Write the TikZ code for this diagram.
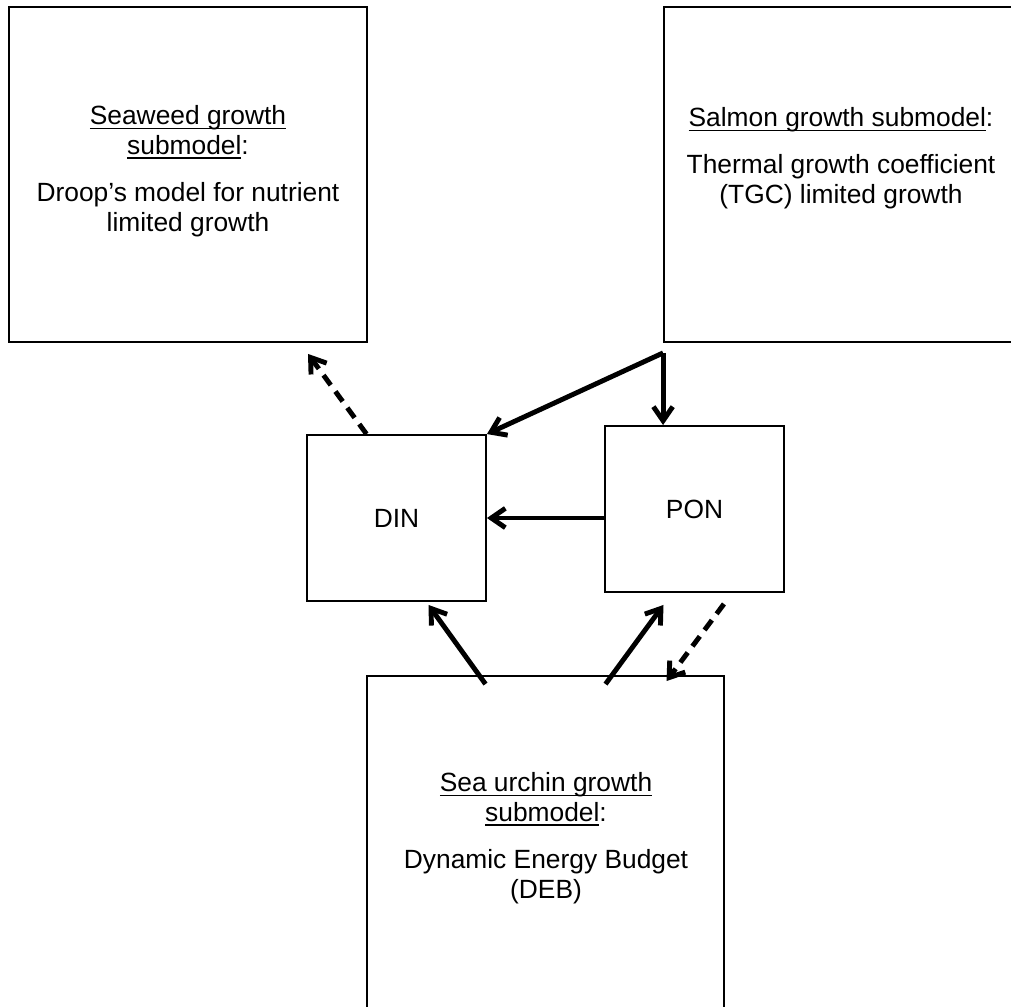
\documentclass[tikz,border=0pt]{standalone}
\usepackage{fontspec}
\setmainfont{Liberation Sans}
\usetikzlibrary{positioning, arrows.meta, calc}

% underline that sits just under the baseline
\newcommand{\uln}[1]{\setbox0\hbox{#1}\rlap{\rule[-2.6pt]{\wd0}{0.7pt}}\box0}

\begin{document}
\begin{tikzpicture}[
  x=0.02cm, y=-0.02cm,
  bigbox/.style={draw, line width=1.1pt, minimum width=7.16cm, minimum height=6.7cm, inner sep=0pt},
  poolbox/.style={draw, line width=1.1pt, minimum width=3.58cm, minimum height=3.32cm, font=\fontsize{15}{17}\selectfont},
  boxtext/.style={align=center, font=\fontsize{15}{17}\selectfont},
  flow/.style={-{Straight Barb[length=8pt, width=11pt]}, line width=2.8pt},
  uptake/.style={flow, dash pattern=on 7pt off 4.5pt}
]
  \path[use as bounding box, fill=white] (0,0) rectangle (1011,1007);
  \clip (0,0) rectangle (1011,1007);

  \node[bigbox] (seaweed) at (188,174.5) {};
  \node[bigbox, minimum width=7.12cm] (salmon) at (842,174.5) {};
  \node[bigbox, minimum width=7.14cm, minimum height=6.8cm] (urchin) at (545.5,846) {};
  \node[poolbox] (din) at (396.5,518) {DIN};
  \node[poolbox] (pon) at (694.5,509) {PON};

  \node[boxtext] (seaweedtxt) at (188,171) {\uln{Seaweed growth}\\\uln{submodel}:\\[10pt]Droop’s model for nutrient\\limited growth};
  \node[boxtext] (salmontxt) at (841,158) {\uln{Salmon growth submodel}:\\[10pt]Thermal growth coefficient\\(TGC) limited growth};
  \node[boxtext] (urchintxt) at (546,838) {\uln{Sea urchin growth}\\\uln{submodel}:\\[10pt]Dynamic Energy Budget\\(DEB)};

  \coordinate (split) at ($(salmon.south west)+(0,10)$);

  \draw[uptake] ($(din.north)+(-30,0)$) -- ($(seaweed.south)+(120,11)$);
  \draw[flow] (split) -- (din.north east);
  \draw[flow] (split) -- (split |- pon.north);
  \draw[flow] (pon.west |- din.east) -- (din.east);
  \draw[flow] ($(urchin.north)+(-60,9)$) -- ($(din.south)+(32,3)$);
  \draw[flow] ($(urchin.north)+(60,9)$) -- ($(pon.south)+(-31,12)$);
  \draw[uptake] ($(pon.south east)+(-61,11)$) -- ($(urchin.north)+(121,6)$);
\end{tikzpicture}
\end{document}
